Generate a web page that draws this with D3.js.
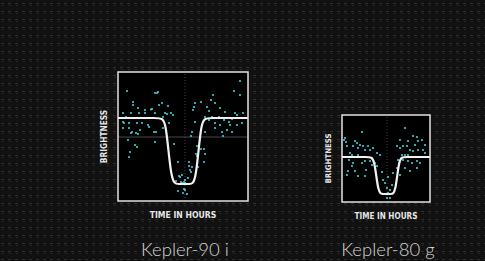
<!DOCTYPE html>
<html>
<head>
<meta charset="utf-8">
<script src="https://cdn.jsdelivr.net/npm/d3@7"></script>
<style>
  html, body { margin:0; padding:0; background:#101010; }
  svg { display:block; }
</style>
</head>
<body>
<svg id="chart" width="485" height="261"></svg>
<script>
// ---- data: time from mid-transit (hours), brightness change (ppm) ----
const planetNames = ["Kepler-90 i", "Kepler-80 g"];

const k90Time = [-5.6,-2.5,-2.6,-2.8,-5.0,-5.0,-2.1,-2.4,-4.5,-3.1,-3.2,-3.8,-1.5,-1.8,-1.6,-6.0,-5.2,-4.4,-3.8,-2.8,
  -1.2,-1.0,-2.0,-5.7,-6.0,-5.9,-5.4,-4.6,-4.1,-3.5,-3.4,-2.9,-2.7,-4.3,-5.4,-6.0,-5.2,-4.7,-2.0,-1.4,
  -5.5,-5.3,-5.4,-4.8,-4.6,-2.8,-5.1,-0.9,-4.5,-0.5,-0.4,-0.3,-0.7,-0.5,-0.2,
  5.7,5.1,5.7,3.0,2.8,1.2,1.1,1.8,3.2,2.4,3.7,2.6,4.2,1.0,5.2,5.4,6.0,4.9,3.6,2.9,2.2,4.1,4.6,3.2,3.7,
  4.7,5.4,5.9,4.4,3.9,4.9,3.2,2.2,1.2,0.9,2.6,0.8,1.4,1.8,2.1,1.3,1.4,2.2,2.1,0.6,0.6,0.9,0.8,0.1,0.2,
  -0.1,0.1,0.2,0.4,4.0,-0.1,0.2,0.5,0.0,0.7,1.5];
const k90Flux = [270,260,250,250,160,130,150,130,100,90,85,80,120,50,40,50,50,50,50,50,
  50,30,10,10,-40,-50,-50,-50,-50,-70,-90,-140,-140,-120,-100,-100,-150,-150,-100,-50,
  -220,-340,-390,-270,-290,-240,-140,-260,-160,-440,-580,-590,-630,-730,-640,
  370,270,230,230,180,150,110,160,150,110,100,70,60,80,50,30,50,-10,10,10,10,-20,-40,-50,-70,
  -70,-70,-50,-120,-140,-140,-100,-140,-40,-140,-20,-180,-280,-310,-310,-360,-380,-360,-440,-440,-480,-490,-540,-640,-650,
  -650,-710,-720,-760,-180,-570,-620,-600,-750,-520,-490];

const k80Time = [-2.4,-4.1,-4.0,-3.9,-3.1,-2.9,-3.3,-2.8,-2.6,-2.3,-2.1,-1.8,-1.6,-1.3,-0.9,-0.6,-3.6,-3.4,-2.8,-3.7,
  -3.3,-3.4,-2.4,-2.1,-1.6,-1.4,-3.8,-3.9,-3.1,-2.0,-2.1,-2.8,-1.1,-0.9,-4.2,
  1.9,2.7,1.4,2.2,3.2,3.6,3.9,1.1,1.4,1.7,2.1,2.9,2.4,2.7,3.2,3.7,3.9,1.6,1.9,2.2,
  1.2,1.7,2.2,2.6,3.1,3.4,1.9,1.1,3.1,2.4,1.4,0.7,0.6,0.2,0.1,0.4,-0.3,-0.1,0.1,0.4,-0.4,0.2,3.1];
const k80Flux = [250,190,150,110,160,140,110,90,120,110,70,110,70,90,40,20,40,20,20,-30,
  -60,-90,-60,-40,-40,-80,-140,-180,-140,-130,-190,-190,-60,-90,170,
  290,210,170,160,160,170,120,110,90,110,110,120,70,60,70,70,40,20,20,20,
  -30,-30,-40,-60,-40,-60,-110,-110,-110,-140,-180,-160,-280,-360,-410,-330,-230,-260,-310,-410,-150,-200,200];

// transit model curves (smoothed with a basis curve)
const k90ModelTime = [-6.5,-2.3,-1.7,-1.2,-0.5,0.7,1.3,1.8,2.4,6.5];
const k90ModelFlux = [0,0,0,-660,-660,-660,-660,0,0,0];
const k80ModelTime = [-4.4,-1.7,-1.15,-0.8,-0.3,0.5,0.95,1.3,1.8,4.4];
const k80ModelFlux = [0,0,0,-370,-370,-370,-370,0,0,0];

// reference lines
const k90Mid = 0.2, k80Mid = 0.1;
const k90Ref = -190;

// ---- layout ----
const panels = [
  {name:planetNames[0], time:k90Time, flux:k90Flux, mTime:k90ModelTime, mFlux:k90ModelFlux, mid:k90Mid, ref:k90Ref,
   box:{x0:118, x1:248, y0:72, y1:201}, xDom:[-6.5,6.5], yDom:[-830,460], font:8.3},
  {name:planetNames[1], time:k80Time, flux:k80Flux, mTime:k80ModelTime, mFlux:k80ModelFlux, mid:k80Mid, ref:null,
   box:{x0:342, x1:430, y0:115, y1:202}, xDom:[-4.4,4.4], yDom:[-450,420], font:7.8}
];

const svg = d3.select("#chart");

// faint textured backdrop
let defs = svg.append("defs");
let pat = defs.append("pattern")
  .attr("id","tex").attr("patternUnits","userSpaceOnUse")
  .attr("width",7).attr("height",8);
pat.append("rect").attr("width",7).attr("height",8).attr("fill","#111");
pat.append("rect").attr("x",1).attr("y",3).attr("width",3).attr("height",1).attr("fill","#2e2e2e");
pat.append("rect").attr("x",2).attr("y",5).attr("width",2).attr("height",1).attr("fill","#282828");
svg.append("rect").attr("width",485).attr("height",261).attr("fill","url(#tex)");

panels.forEach(function(p){
  let x = d3.scaleLinear().domain(p.xDom).range([p.box.x0, p.box.x1]);
  let y = d3.scaleLinear().domain(p.yDom).range([p.box.y1, p.box.y0]);
  let g = svg.append("g");
  let cx = (p.box.x0 + p.box.x1)/2;

  g.append("rect")
    .attr("x",p.box.x0).attr("y",p.box.y0)
    .attr("width",p.box.x1-p.box.x0).attr("height",p.box.y1-p.box.y0)
    .attr("fill","#000");

  // dotted mid-transit line
  g.append("line")
    .attr("x1",x(p.mid)).attr("x2",x(p.mid))
    .attr("y1",p.box.y0+2).attr("y2",p.box.y1-2)
    .attr("stroke","#555").attr("stroke-width",0.8)
    .attr("stroke-dasharray","1,2");

  if(p.ref !== null){
    g.append("line")
      .attr("x1",p.box.x0).attr("x2",p.box.x1)
      .attr("y1",y(p.ref)).attr("y2",y(p.ref))
      .attr("stroke","#5a5a5a").attr("stroke-width",0.8);
  }

  // measurements
  g.selectAll("circle")
    .data(d3.range(p.time.length))
    .join("circle")
    .attr("cx",i=>x(p.time[i]))
    .attr("cy",i=>y(p.flux[i]))
    .attr("r",1.1)
    .attr("fill","#45ccd8");

  // model
  let line = d3.line()
    .x(i=>x(p.mTime[i]))
    .y(i=>y(p.mFlux[i]))
    .curve(d3.curveBasis);
  g.append("path")
    .attr("d",line(d3.range(p.mTime.length)))
    .attr("fill","none")
    .attr("stroke","#f2f2f2")
    .attr("stroke-width",2.2);

  g.append("rect")
    .attr("x",p.box.x0).attr("y",p.box.y0)
    .attr("width",p.box.x1-p.box.x0).attr("height",p.box.y1-p.box.y0)
    .attr("fill","none").attr("stroke","#e2e2e2").attr("stroke-width",1.5);

  // axis labels
  g.append("text")
    .attr("transform","translate("+(p.box.x0-11)+","+((p.box.y0+p.box.y1)/2)+") rotate(-90)")
    .attr("text-anchor","middle")
    .attr("font-family","Liberation Sans Narrow, DejaVu Sans Condensed, sans-serif")
    .attr("font-weight","bold")
    .attr("font-size",p.font)
    .attr("fill","#e6e6e6")
    .text("BRIGHTNESS");
  g.append("text")
    .attr("x",cx).attr("y",p.box.y1+17)
    .attr("text-anchor","middle")
    .attr("font-family","Liberation Sans Narrow, DejaVu Sans Condensed, sans-serif")
    .attr("font-weight","bold")
    .attr("font-size",p.font+0.3)
    .attr("fill","#e6e6e6")
    .text("TIME IN HOURS");

  // planet name (kept fully inside the frame)
  g.append("text")
    .attr("x",cx+2).attr("y",256)
    .attr("text-anchor","middle")
    .attr("font-family","Lato, 'Open Sans', sans-serif")
    .attr("font-weight",300)
    .attr("font-size",18.5)
    .attr("fill","#d4d4d4")
    .text(p.name);
});
</script>
</body>
</html>
